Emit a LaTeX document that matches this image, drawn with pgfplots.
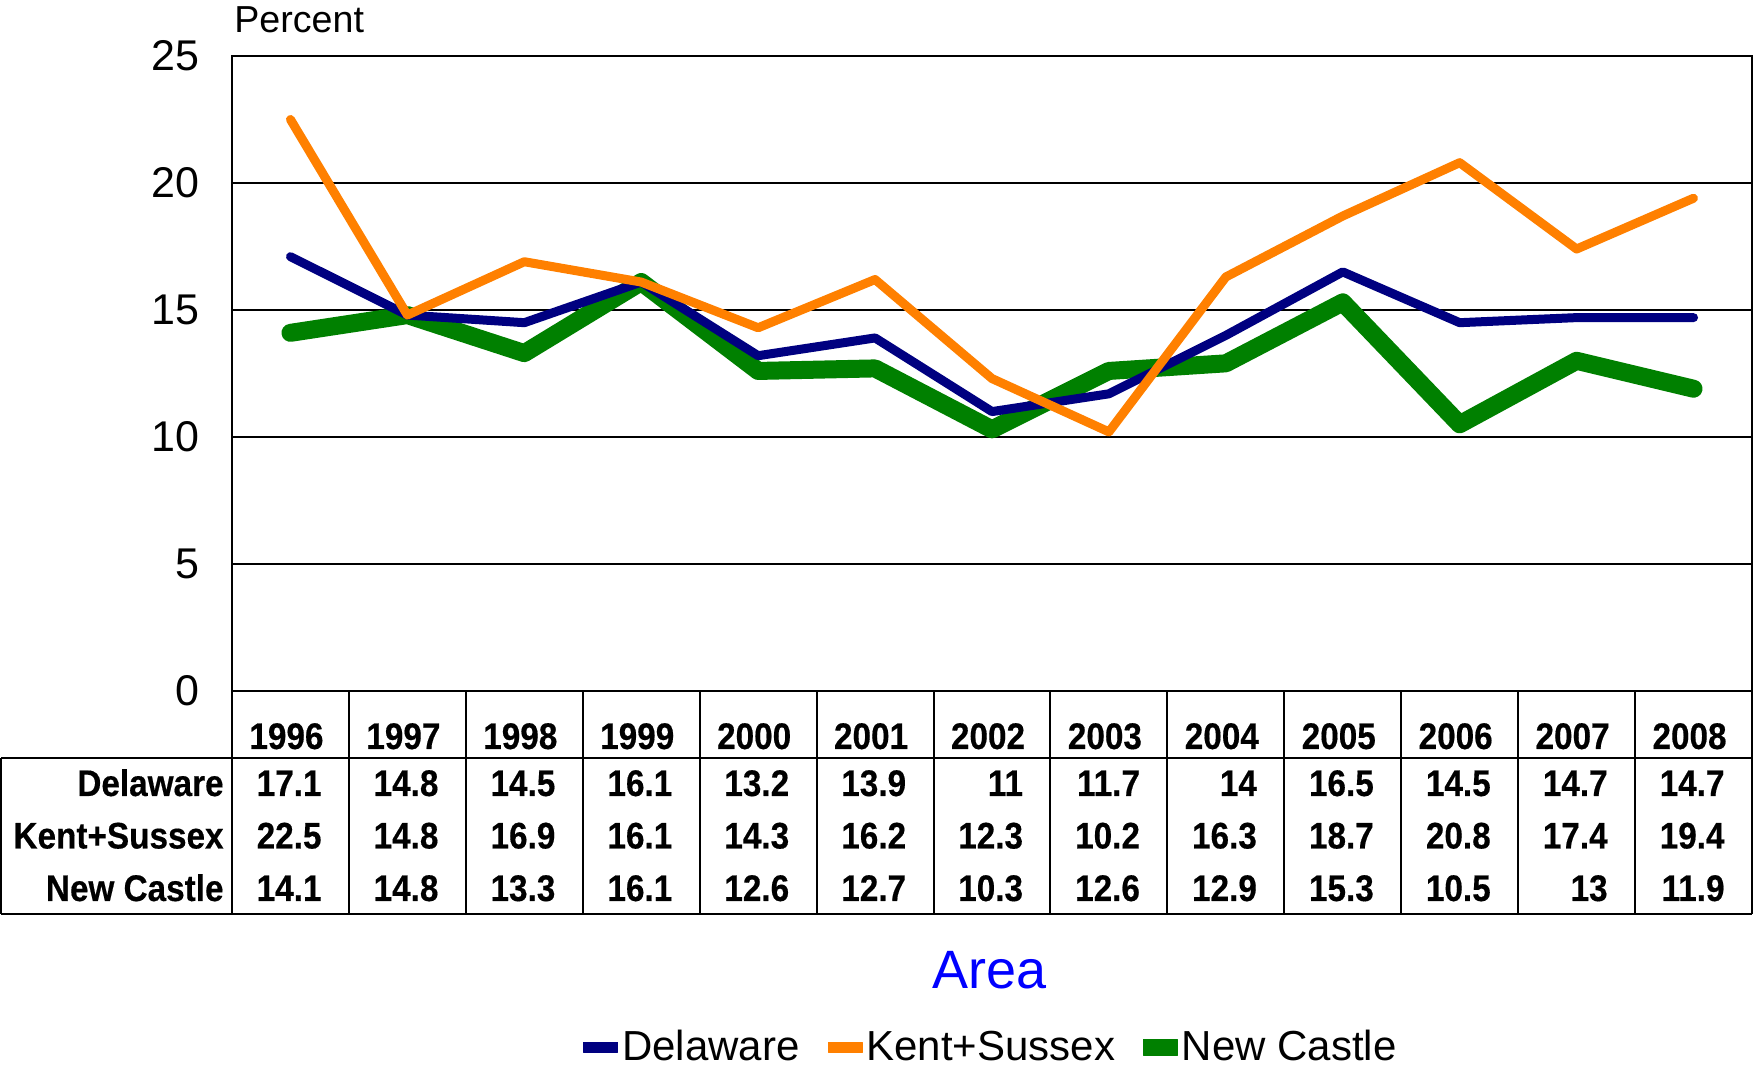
\documentclass[border=0pt]{standalone}
\usepackage{pgfplots}
\pgfplotsset{compat=1.18}
\usepackage{fontspec}
\setmainfont{Liberation Sans}
\newfontfamily\tabfont[FakeStretch=0.9,FakeBold=0.4]{Liberation Sans}
\definecolor{navyc}{HTML}{000080}
\definecolor{orangec}{HTML}{FF8000}
\definecolor{greenc}{HTML}{008000}
\definecolor{areablue}{HTML}{0000FF}

\begin{document}
\begin{tikzpicture}
\useasboundingbox (0,0) rectangle (876.5pt,534pt);
\begin{axis}[
  at={(116pt,188.5pt)}, anchor=south west,
  scale only axis, width=760pt, height=317.5pt,
  xmin=-0.5, xmax=12.5, ymin=0, ymax=25,
  xtick=\empty, ytick={0,5,...,25},
  ymajorgrids, grid style={black, line width=1pt},
  axis line style={black, line width=1pt},
  major tick length=0pt,
  /pgf/number format/assume math mode=true,
  yticklabel style={font=\fontsize{21.5}{24}\selectfont, xshift=-13pt},
  clip=false,
  legend columns=3,
  legend style={at={(0.5,-0.5606)}, anchor=center, draw=none, fill=none,
    font=\fontsize{21}{24}\selectfont, inner sep=0pt,
    /tikz/every even column/.append style={column sep=12pt}},
  every axis plot/.append style={line cap=round, line join=round},
]
\addplot[greenc, line width=9pt, forget plot] coordinates {
(0,14.1) (1,14.8) (2,13.3) (3,16.1) (4,12.6) (5,12.7) (6,10.3) (7,12.6) (8,12.9) (9,15.3) (10,10.5) (11,13) (12,11.9)};
\addplot[navyc, line width=4.5pt, forget plot] coordinates {
(0,17.1) (1,14.8) (2,14.5) (3,16.1) (4,13.2) (5,13.9) (6,11) (7,11.7) (8,14) (9,16.5) (10,14.5) (11,14.7) (12,14.7)};
\addplot[orangec, line width=4.5pt, forget plot] coordinates {
(0,22.5) (1,14.8) (2,16.9) (3,16.1) (4,14.3) (5,16.2) (6,12.3) (7,10.2) (8,16.3) (9,18.7) (10,20.8) (11,17.4) (12,19.4)};
\addlegendimage{legend image code/.code={\fill[navyc] (0pt,-2.5pt) rectangle (17pt,2.5pt);}}
\addlegendentry{Delaware}
\addlegendimage{legend image code/.code={\fill[orangec] (0pt,-2.5pt) rectangle (17pt,2.5pt);}}
\addlegendentry{Kent+Sussex}
\addlegendimage{legend image code/.code={\fill[greenc] (0pt,-4pt) rectangle (17pt,4pt);}}
\addlegendentry{New Castle}
\end{axis}
\begin{scope}[shift={(0,534pt)}, x=0.5pt, y=-0.5pt]
  \node[anchor=base west, inner sep=0pt, font=\fontsize{18.8}{21}\selectfont] at (234,33) {Percent};
  \node[anchor=center, inner sep=0pt, text=areablue, font=\fontsize{27}{30}\selectfont] at (990,970) {Area};
  \draw[line width=1pt] (1,758) -- (1752,758);
  \draw[line width=1pt] (1,914) -- (1752,914);
  \draw[line width=1pt] (1,758) -- (1,914);
  \foreach \k in {0,...,13} {
    \draw[line width=1pt] ({232+116.92*\k},691) -- ({232+116.92*\k},914);
  }
  \foreach \y [count=\i from 1] in {1996,1997,1998,1999,2000,2001,2002,2003,2004,2005,2006,2007,2008} {
    \node[anchor=base east, inner sep=0pt, font=\tabfont\bfseries\fontsize{18.5}{20}\selectfont] at ({232+116.92*\i-25},749) {\y};
  }
  \node[anchor=base east, inner sep=0pt, font=\tabfont\bfseries\fontsize{18.5}{20}\selectfont] at (224,796) {Delaware};
  \node[anchor=base east, inner sep=0pt, font=\tabfont\bfseries\fontsize{18.5}{20}\selectfont] at (224,848.5) {Kent+Sussex};
  \node[anchor=base east, inner sep=0pt, font=\tabfont\bfseries\fontsize{18.5}{20}\selectfont] at (224,901) {New Castle};
  \foreach \v [count=\i from 1] in {17.1,14.8,14.5,16.1,13.2,13.9,11,11.7,14,16.5,14.5,14.7,14.7} {
    \node[anchor=base east, inner sep=0pt, font=\tabfont\bfseries\fontsize{18.5}{20}\selectfont] at ({232+116.92*\i-27},796) {\v};
  }
  \foreach \v [count=\i from 1] in {22.5,14.8,16.9,16.1,14.3,16.2,12.3,10.2,16.3,18.7,20.8,17.4,19.4} {
    \node[anchor=base east, inner sep=0pt, font=\tabfont\bfseries\fontsize{18.5}{20}\selectfont] at ({232+116.92*\i-27},848.5) {\v};
  }
  \foreach \v [count=\i from 1] in {14.1,14.8,13.3,16.1,12.6,12.7,10.3,12.6,12.9,15.3,10.5,13,11.9} {
    \node[anchor=base east, inner sep=0pt, font=\tabfont\bfseries\fontsize{18.5}{20}\selectfont] at ({232+116.92*\i-27},901) {\v};
  }
\end{scope}
\end{tikzpicture}
\end{document}
